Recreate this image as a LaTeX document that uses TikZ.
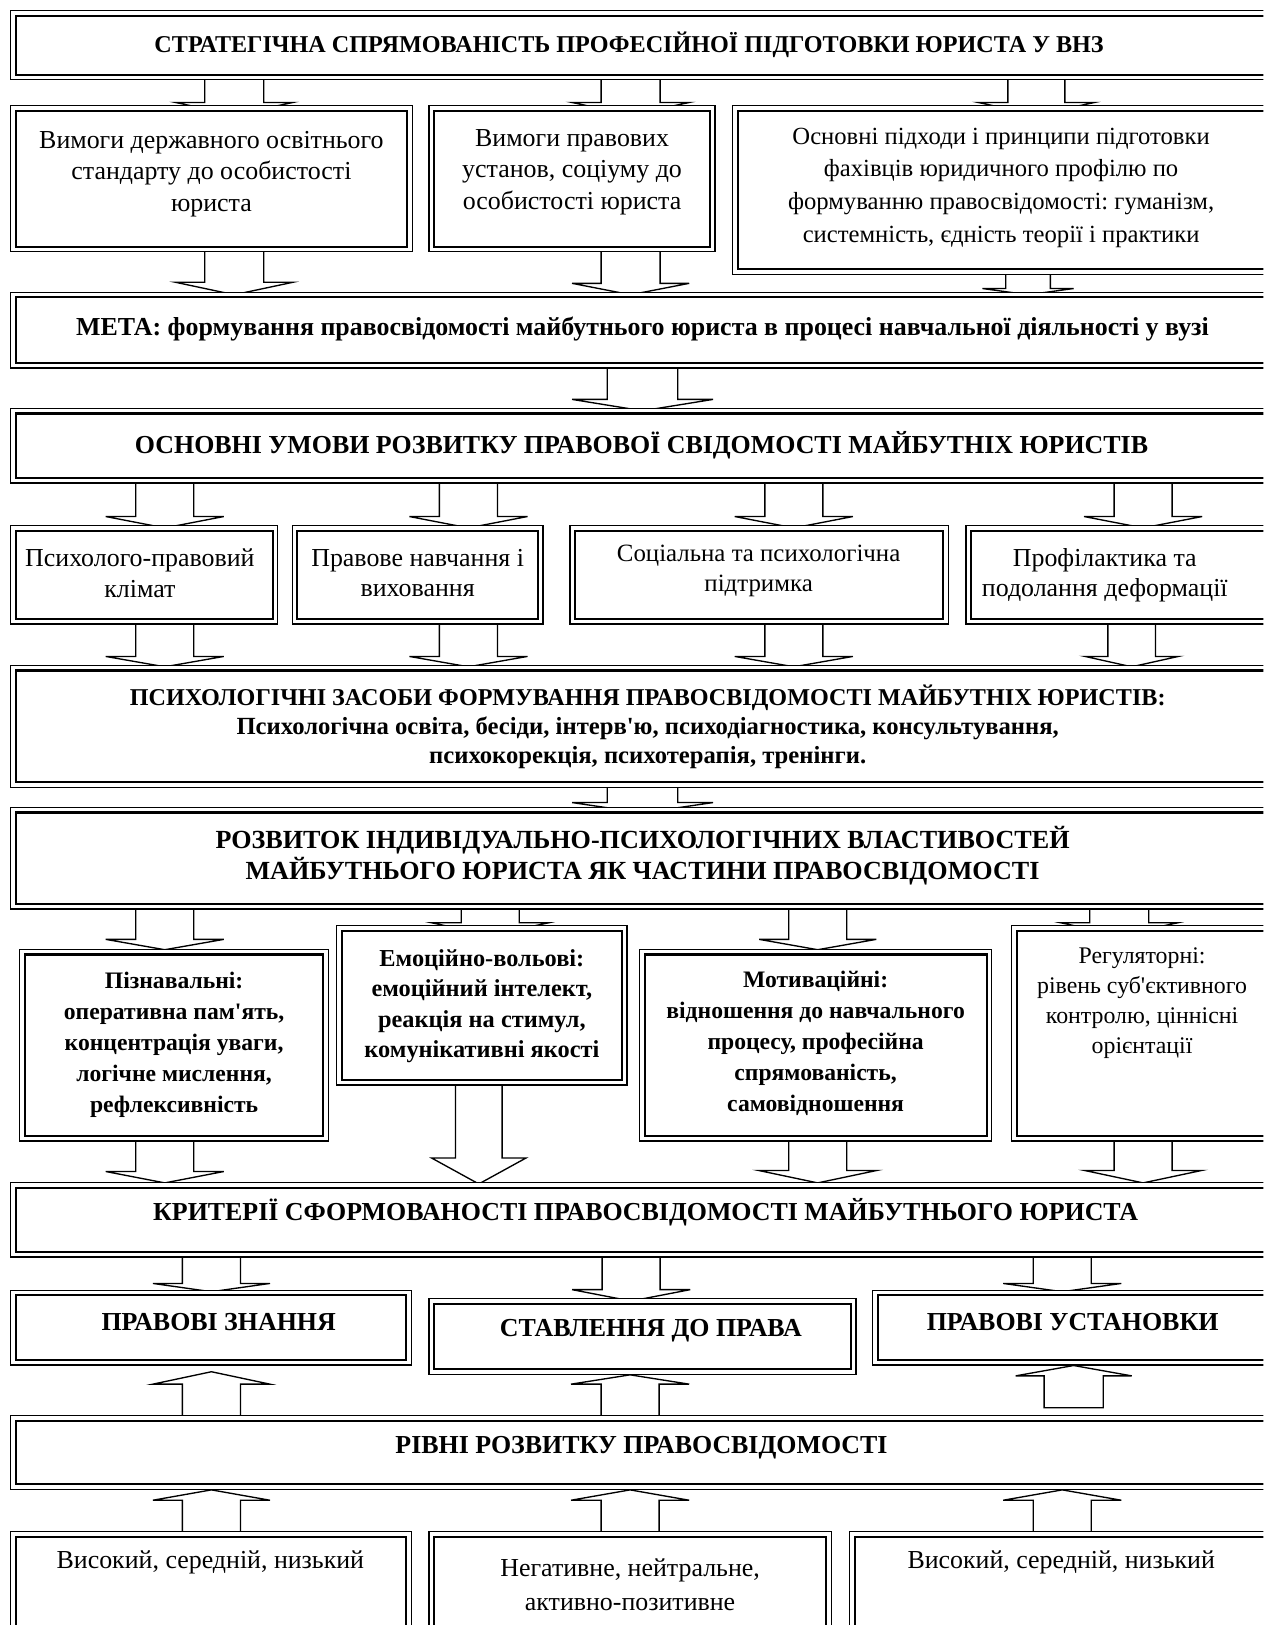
\documentclass[tikz,border=0pt]{standalone}
\usepackage{fontspec}
\setmainfont{Liberation Serif}[Ligatures=TeXOff]
\usetikzlibrary{calc,backgrounds}

% block arrows: from, to, x, half shaft, half head, head length, tip overlap
\newcommand{\blockdown}[7]{%
  \draw[blockarrow] let \p1 = (#1.south), \p2 = (#2.north) in
    (#3pt-#4pt, \y1+4pt) -- (#3pt-#4pt, \y2-#7pt+#6pt) -- (#3pt-#5pt, \y2-#7pt+#6pt)
    -- (#3pt, \y2-#7pt) -- (#3pt+#5pt, \y2-#7pt+#6pt) -- (#3pt+#4pt, \y2-#7pt+#6pt)
    -- (#3pt+#4pt, \y1+4pt) -- cycle;}
\newcommand{\blockup}[7]{%
  \draw[blockarrow] let \p1 = (#1.north), \p2 = (#2.south) in
    (#3pt-#4pt, \y1-4pt) -- (#3pt-#4pt, \y2-#7pt-#6pt) -- (#3pt-#5pt, \y2-#7pt-#6pt)
    -- (#3pt, \y2-#7pt) -- (#3pt+#5pt, \y2-#7pt-#6pt) -- (#3pt+#4pt, \y2-#7pt-#6pt)
    -- (#3pt+#4pt, \y1-4pt) -- cycle;}

\begin{document}
\frenchspacing
\begin{tikzpicture}[x=1pt, y=-1pt,
    box/.style={draw, line width=1.2pt, fill=white, inner sep=0pt,
        path picture={\draw[line width=2pt]
            ([shift={(5pt,-5pt)}]path picture bounding box.north west) rectangle
            ([shift={(-5pt,5pt)}]path picture bounding box.south east);}},
    txt/.style={align=center, inner sep=0pt, font=\fontsize{25}{30.5}\selectfont},
    btxt/.style={align=center, inner sep=0pt, font=\fontsize{25}{30}\selectfont\bfseries},
    blockarrow/.style={draw, line width=1.3pt, fill=white, line join=miter}]
    \useasboundingbox (0,0) rectangle (1219,1568);
    \clip (0,0) rectangle (1219,1568);

    % Boxes
    \node[box, minimum width=1222, minimum height=67] at (621,43.5) (top) {};
    \node[box, minimum width=388, minimum height=141] at (204,172.5) (req1) {};
    \node[box, minimum width=276, minimum height=141] at (552,172.5) (req2) {};
    \node[box, minimum width=528, minimum height=163] at (971,183.5) (princ) {};
    \node[box, minimum width=1222, minimum height=73] at (621,318.5) (goal) {};
    \node[box, minimum width=1222, minimum height=72] at (621,430) (cond) {};
    \node[box, minimum width=258, minimum height=95] at (139,554.5) (clim) {};
    \node[box, minimum width=242, minimum height=95] at (403,554.5) (educ) {};
    \node[box, minimum width=365, minimum height=95] at (732.5,554.5) (supp) {};
    \node[box, minimum width=303, minimum height=95] at (1083.5,554.5) (prev) {};
    \node[box, minimum width=1222, minimum height=118] at (621,701) (means) {};
    \node[box, minimum width=1222, minimum height=98] at (621,828) (devel) {};
    \node[box, minimum width=298, minimum height=185] at (168,1008.5) (cogn) {};
    \node[box, minimum width=280, minimum height=154] at (465,970) (emot) {};
    \node[box, minimum width=340, minimum height=185] at (787,1008.5) (motiv) {};
    \node[box, minimum width=259, minimum height=208] at (1105.5,997) (regul) {};
    \node[box, minimum width=1222, minimum height=72] at (621,1177) (crit) {};
    \node[box, minimum width=387, minimum height=72] at (203.5,1281) (know) {};
    \node[box, minimum width=412, minimum height=73] at (620,1289.5) (attit) {};
    \node[box, minimum width=393, minimum height=72] at (1038.5,1281) (sets) {};
    \node[box, minimum width=1222, minimum height=71] at (621,1401.5) (levels) {};
    \node[box, minimum width=387, minimum height=122] at (203.5,1539) (low1) {};
    \node[box, minimum width=388, minimum height=122] at (608,1539) (low2) {};
    \node[box, minimum width=415, minimum height=122] at (1027.5,1539) (low3) {};

    % Texts
    \node[btxt, font=\fontsize{23.3}{30}\selectfont\bfseries] at (607,43) (ttop) {СТРАТЕГІЧНА СПРЯМОВАНІСТЬ ПРОФЕСІЙНОЇ ПІДГОТОВКИ ЮРИСТА У ВНЗ};
    \node[txt] at (204,168) (treq1) {Вимоги державного освітнього\\стандарту до особистості\\юриста};
    \node[txt] at (552,166) (treq2) {Вимоги правових\\установ, соціуму до\\особистості юриста};
    \node[txt, font=\fontsize{23.8}{31.5}\selectfont] at (966,181) (tprinc) {Основні підходи і принципи підготовки\\фахівців юридичного профілю по\\формуванню правосвідомості: гуманізм,\\системність, єдність теорії і практики};
    \node[btxt] at (620,317) (tgoal) {МЕТА: формування правосвідомості майбутнього юриста в процесі навчальної діяльності у вузі};
    \node[btxt] at (619,430) (tcond) {ОСНОВНІ УМОВИ РОЗВИТКУ ПРАВОВОЇ СВІДОМОСТІ МАЙБУТНІХ ЮРИСТІВ};
    \node[txt, font=\fontsize{25}{29.5}\selectfont] at (135,553) (tclim) {Психолого-правовий\\клімат};
    \node[txt, font=\fontsize{25}{29.5}\selectfont] at (403,553) (teduc) {Правове навчання і\\виховання};
    \node[txt, font=\fontsize{24}{29.5}\selectfont] at (732,551) (tsupp) {Соціальна та психологічна\\підтримка};
    \node[txt, font=\fontsize{25}{29.5}\selectfont] at (1066,555) (tprev) {Профілактика та\\подолання деформації};
    \node[btxt, font=\fontsize{23.8}{28}\selectfont\bfseries] at (625,701) (tmeans) {{\fontsize{23.3}{28}\selectfont ПСИХОЛОГІЧНІ ЗАСОБИ ФОРМУВАННЯ ПРАВОСВІДОМОСТІ МАЙБУТНІХ ЮРИСТІВ:}\\Психологічна освіта, бесіди, інтерв'ю, психодіагностика, консультування,\\психокорекція, психотерапія, тренінги.};
    \node[btxt, font=\fontsize{25.2}{30}\selectfont\bfseries] at (620,826) (tdevel) {РОЗВИТОК ІНДИВІДУАЛЬНО-ПСИХОЛОГІЧНИХ ВЛАСТИВОСТЕЙ\\МАЙБУТНЬОГО ЮРИСТА ЯК ЧАСТИНИ ПРАВОСВІДОМОСТІ};
    \node[btxt, font=\fontsize{22.8}{30}\selectfont\bfseries] at (168,1008) (tcogn) {Пізнавальні:\\оперативна пам'ять,\\концентрація уваги,\\логічне мислення,\\рефлексивність};
    \node[btxt, font=\fontsize{23.5}{29.5}\selectfont\bfseries] at (465,971) (temot) {Емоційно-вольові:\\емоційний інтелект,\\реакція на стимул,\\комунікативні якості};
    \node[btxt, font=\fontsize{22.8}{30}\selectfont\bfseries] at (787,1007) (tmotiv) {Мотиваційні:\\відношення до навчального\\процесу, професійна\\спрямованість,\\самовідношення};
    \node[txt, font=\fontsize{23}{29}\selectfont] at (1102,968) (tregul) {Регуляторні:\\рівень суб'єктивного\\контролю, ціннісні\\орієнтації};
    \node[btxt] at (623,1170) (tcrit) {КРИТЕРІЇ СФОРМОВАНОСТІ ПРАВОСВІДОМОСТІ МАЙБУТНЬОГО ЮРИСТА};
    \node[btxt] at (211,1276) (tknow) {ПРАВОВІ ЗНАННЯ};
    \node[btxt] at (628,1284) (tattit) {СТАВЛЕННЯ ДО ПРАВА};
    \node[btxt] at (1035,1276) (tsets) {ПРАВОВІ УСТАНОВКИ};
    \node[btxt] at (619,1397) (tlevels) {РІВНІ РОЗВИТКУ ПРАВОСВІДОМОСТІ};
    \node[txt] at (203,1508) (tlow1) {Високий, середній, низький};
    \node[txt, font=\fontsize{25}{33}\selectfont] at (608,1529) (tlow2) {Негативне, нейтральне,\\активно-позитивне};
    \node[txt] at (1024,1508) (tlow3) {Високий, середній, низький};

    % Arrows
    \begin{pgfonlayer}{background}
        \blockdown{top}{req1}{226}{28.5}{56.5}{12}{9.5}
        \blockdown{top}{req2}{608.5}{28.5}{56.5}{12}{9.5}
        \blockdown{top}{princ}{1000}{27.5}{56}{12}{9.5}

        \blockdown{req1}{goal}{226}{28.5}{56.5}{12}{3}
        \blockdown{req2}{goal}{608.5}{28.5}{56.5}{11}{3}
        \blockdown{princ}{goal}{992}{21.5}{44}{6}{3}

        \blockdown{goal}{cond}{620}{34}{68}{11}{3}

        \blockdown{cond}{clim}{159}{28}{57}{11}{3}
        \blockdown{cond}{educ}{452}{28}{57}{11}{3}
        \blockdown{cond}{supp}{766}{28}{57}{11}{3}
        \blockdown{cond}{prev}{1103}{28}{57}{11}{3}

        \blockdown{clim}{means}{159}{28}{57}{10}{2}
        \blockdown{educ}{means}{452}{28}{57}{10}{2}
        \blockdown{supp}{means}{766}{28}{57}{10}{2}
        \blockdown{prev}{means}{1092}{23}{45}{10}{2}

        \blockdown{means}{devel}{620}{34}{68}{10}{6}

        \blockdown{devel}{cogn}{159}{28}{57}{10}{1}
        \blockdown{devel}{emot}{473}{28}{56.5}{12}{10}
        \blockdown{devel}{motiv}{789}{28}{56.5}{10}{1}
        \blockdown{devel}{regul}{1080}{28.5}{56.5}{12}{10}

        \blockdown{cogn}{crit}{159}{28}{57}{11}{1}
        \blockdown{emot}{crit}{462}{22.5}{45.5}{25}{2}
        \blockdown{motiv}{crit}{789}{28}{57}{12}{1}
        \blockdown{regul}{crit}{1103}{28}{56.5}{12}{1}

        \blockdown{crit}{know}{204}{28}{56.5}{8}{2}
        \blockdown{crit}{attit}{609}{28}{57}{11}{3}
        \blockdown{crit}{sets}{1025}{28}{57}{8}{2}

        \blockup{levels}{know}{204}{28}{56.5}{12}{6}
        \blockup{levels}{attit}{608}{28}{57}{9}{0}
        \draw[blockarrow] let \p1 = (levels.north), \p2 = (sets.south) in
            (1007.5pt, \y1+7pt) -- (1007.5pt, \y2-10pt) -- (980pt, \y2-10pt) -- (1036pt, \y2)
            -- (1092pt, \y2-10pt) -- (1064.5pt, \y2-10pt) -- (1064.5pt, \y1+7pt) -- cycle;

        \blockup{low1}{levels}{204}{28}{56.5}{10}{0}
        \blockup{low2}{levels}{608}{28}{57}{10}{0}
        \blockup{low3}{levels}{1025}{28}{57}{10}{0}
    \end{pgfonlayer}
\end{tikzpicture}
\end{document}
